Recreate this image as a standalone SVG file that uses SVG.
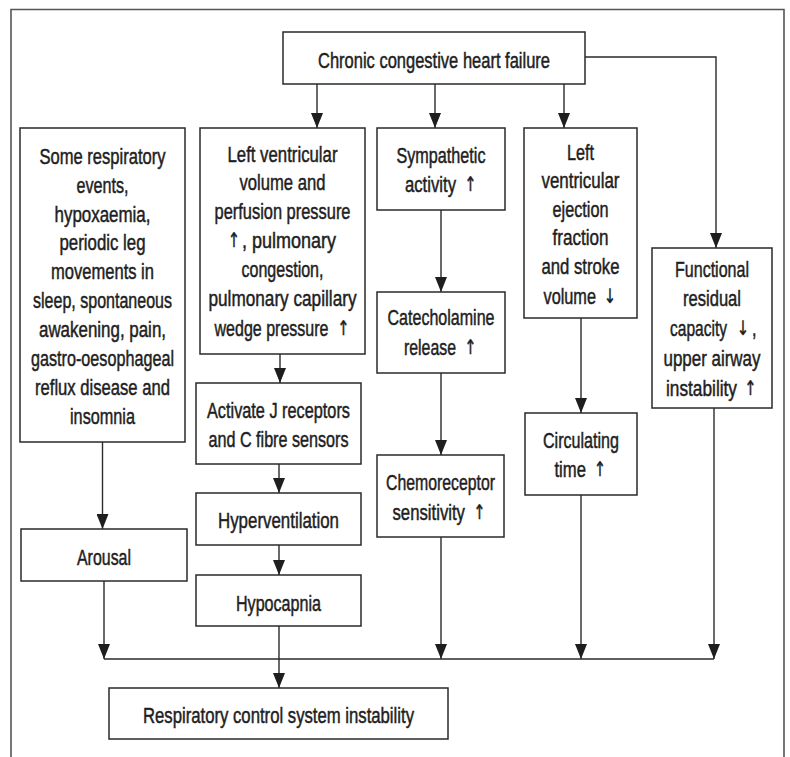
<svg xmlns="http://www.w3.org/2000/svg" width="790" height="757" viewBox="0 0 790 757">
<style>
.box{fill:#fff;stroke:#2a2a2a;stroke-width:1.5}
.frame{fill:none;stroke:#555;stroke-width:1.6}
.t{font-family:"Liberation Sans Narrow","Liberation Sans",Arial,sans-serif;font-size:22.5px;fill:#1e1e1e;text-anchor:middle;stroke:#1e1e1e;stroke-width:0.5}
.s{text-anchor:start}
.ar{font-family:"DejaVu Sans",sans-serif;font-size:20px;fill:#1e1e1e;text-anchor:middle;stroke:#1e1e1e;stroke-width:0.5}
.c{fill:none;stroke:#2a2a2a;stroke-width:1.4}
.a{marker-end:url(#ah)}
</style>
<defs>
<marker id="ah" markerUnits="userSpaceOnUse" markerWidth="15" markerHeight="12" refX="15" refY="6" orient="auto">
<path d="M0,0 L15,6 L0,12 z" fill="#1e1e1e"/>
</marker>
</defs>
<rect width="790" height="757" fill="#fff"/>
<path class="frame" d="M11,757 V9.5 H784 V757"/>

<g id="connectors">
<line class="c a" x1="317" y1="84" x2="317" y2="128"/>
<line class="c a" x1="435" y1="84" x2="435" y2="128"/>
<line class="c a" x1="564" y1="84" x2="564" y2="128"/>
<path class="c a" d="M585,57 H716 V248"/>
<line class="c a" x1="102.5" y1="442" x2="102.5" y2="529"/>
<line class="c a" x1="280" y1="354" x2="280" y2="383"/>
<line class="c a" x1="279" y1="464" x2="279" y2="493"/>
<line class="c a" x1="279" y1="545" x2="279" y2="575"/>
<line class="c a" x1="441" y1="210" x2="441" y2="292"/>
<line class="c a" x1="441" y1="373" x2="441" y2="455"/>
<line class="c a" x1="581" y1="318" x2="581" y2="413"/>
<line class="c a" x1="104" y1="581" x2="104" y2="659"/>
<line class="c a" x1="441" y1="537" x2="441" y2="659"/>
<line class="c a" x1="581" y1="495" x2="581" y2="659"/>
<line class="c a" x1="714" y1="408" x2="714" y2="659"/>
<line class="c" x1="104" y1="659" x2="714" y2="659"/>
<line class="c a" x1="279" y1="626" x2="279" y2="688"/>
</g>

<g id="chf">
<rect class="box" x="283" y="32" width="302" height="52"/>
<text class="t" transform="scale(0.72,1)" x="602.78" y="68" textLength="322.22" lengthAdjust="spacingAndGlyphs">Chronic congestive heart failure</text>
</g>

<g id="some-events">
<rect class="box" x="20" y="128" width="165" height="314"/>
<g transform="scale(0.72,1)">
<text class="t" x="142.36" y="164" textLength="175" lengthAdjust="spacingAndGlyphs">Some respiratory</text>
<text class="t" x="142.36" y="193" textLength="72.22" lengthAdjust="spacingAndGlyphs">events,</text>
<text class="t" x="142.36" y="222" textLength="133.33" lengthAdjust="spacingAndGlyphs">hypoxaemia,</text>
<text class="t" x="142.36" y="250" textLength="119.44" lengthAdjust="spacingAndGlyphs">periodic leg</text>
<text class="t" x="142.36" y="279" textLength="143.06" lengthAdjust="spacingAndGlyphs">movements in</text>
<text class="t" x="142.36" y="308" textLength="193.06" lengthAdjust="spacingAndGlyphs">sleep, spontaneous</text>
<text class="t" x="142.36" y="337" textLength="176.39" lengthAdjust="spacingAndGlyphs">awakening, pain,</text>
<text class="t" x="142.36" y="366" textLength="198.61" lengthAdjust="spacingAndGlyphs">gastro-oesophageal</text>
<text class="t" x="142.36" y="395" textLength="187.5" lengthAdjust="spacingAndGlyphs">reflux disease and</text>
<text class="t" x="142.36" y="424" textLength="90.28" lengthAdjust="spacingAndGlyphs">insomnia</text>
</g>
</g>

<g id="lv-volume">
<rect class="box" x="200" y="128" width="165" height="226"/>
<g transform="scale(0.72,1)">
<text class="t" x="392.36" y="162" textLength="152.78" lengthAdjust="spacingAndGlyphs">Left ventricular</text>
<text class="t" x="392.36" y="190.5" textLength="119.44" lengthAdjust="spacingAndGlyphs">volume and</text>
<text class="t" x="392.36" y="219.5" textLength="188.89" lengthAdjust="spacingAndGlyphs">perfusion pressure</text>
<text class="ar" x="325" y="247">↑</text>
<text class="t s" x="336.11" y="248" textLength="130.56" lengthAdjust="spacingAndGlyphs">, pulmonary</text>
<text class="t" x="392.36" y="277" textLength="113.89" lengthAdjust="spacingAndGlyphs">congestion,</text>
<text class="t" x="392.36" y="306" textLength="205.56" lengthAdjust="spacingAndGlyphs">pulmonary capillary</text>
<text class="t s" x="297.92" y="336" textLength="158.33" lengthAdjust="spacingAndGlyphs">wedge pressure</text>
<text class="ar" x="477.08" y="335">↑</text>
</g>
</g>

<g id="sympathetic">
<rect class="box" x="377" y="128" width="128" height="82"/>
<g transform="scale(0.72,1)">
<text class="t" x="612.5" y="163" textLength="123.61" lengthAdjust="spacingAndGlyphs">Sympathetic</text>
<text class="t s" x="562.5" y="192" textLength="70.83" lengthAdjust="spacingAndGlyphs">activity</text>
<text class="ar" x="653.47" y="191">↑</text>
</g>
</g>

<g id="lv-ejection">
<rect class="box" x="524" y="128" width="113" height="190"/>
<g transform="scale(0.72,1)">
<text class="t" x="806.25" y="160" textLength="37.5" lengthAdjust="spacingAndGlyphs">Left</text>
<text class="t" x="806.25" y="188.5" textLength="108.33" lengthAdjust="spacingAndGlyphs">ventricular</text>
<text class="t" x="806.25" y="217" textLength="77.78" lengthAdjust="spacingAndGlyphs">ejection</text>
<text class="t" x="806.25" y="245.5" textLength="77.78" lengthAdjust="spacingAndGlyphs">fraction</text>
<text class="t" x="806.25" y="274.5" textLength="108.33" lengthAdjust="spacingAndGlyphs">and stroke</text>
<text class="t s" x="754.86" y="304" textLength="72.92" lengthAdjust="spacingAndGlyphs">volume</text>
<text class="ar" x="847.22" y="303">↓</text>
</g>
</g>

<g id="functional">
<rect class="box" x="652" y="248" width="120" height="160"/>
<g transform="scale(0.72,1)">
<text class="t" x="988.89" y="277" textLength="102.78" lengthAdjust="spacingAndGlyphs">Functional</text>
<text class="t" x="988.89" y="306" textLength="80.56" lengthAdjust="spacingAndGlyphs">residual</text>
<text class="t s" x="930.56" y="336" textLength="79.17" lengthAdjust="spacingAndGlyphs">capacity</text>
<text class="ar" x="1031.94" y="335">↓</text>
<text class="t s" x="1044.44" y="336">,</text>
<text class="t" x="988.89" y="366" textLength="134.72" lengthAdjust="spacingAndGlyphs">upper airway</text>
<text class="t s" x="925" y="396" textLength="98.61" lengthAdjust="spacingAndGlyphs">instability</text>
<text class="ar" x="1042.36" y="395">↑</text>
</g>
</g>

<g id="catecholamine">
<rect class="box" x="377" y="292" width="128" height="81"/>
<g transform="scale(0.72,1)">
<text class="t" x="612.5" y="325" textLength="148.61" lengthAdjust="spacingAndGlyphs">Catecholamine</text>
<text class="t s" x="561.11" y="355" textLength="72.22" lengthAdjust="spacingAndGlyphs">release</text>
<text class="ar" x="653.47" y="354">↑</text>
</g>
</g>

<g id="chemoreceptor">
<rect class="box" x="377" y="455" width="127" height="82"/>
<g transform="scale(0.72,1)">
<text class="t" x="611.81" y="490" textLength="151.39" lengthAdjust="spacingAndGlyphs">Chemoreceptor</text>
<text class="t s" x="545.14" y="520" textLength="100.69" lengthAdjust="spacingAndGlyphs">sensitivity</text>
<text class="ar" x="665.97" y="519">↑</text>
</g>
</g>

<g id="circulating">
<rect class="box" x="525" y="413" width="112" height="82"/>
<g transform="scale(0.72,1)">
<text class="t" x="806.94" y="448" textLength="105.56" lengthAdjust="spacingAndGlyphs">Circulating</text>
<text class="t s" x="770.14" y="477" textLength="43.75" lengthAdjust="spacingAndGlyphs">time</text>
<text class="ar" x="833.33" y="476">↑</text>
</g>
</g>

<g id="activate">
<rect class="box" x="196" y="383" width="165" height="81"/>
<g transform="scale(0.72,1)">
<text class="t" x="386.81" y="418" textLength="198.61" lengthAdjust="spacingAndGlyphs">Activate J receptors</text>
<text class="t" x="386.81" y="447" textLength="194.44" lengthAdjust="spacingAndGlyphs">and C fibre sensors</text>
</g>
</g>

<g id="hyperventilation">
<rect class="box" x="196" y="493" width="165" height="52"/>
<text class="t" transform="scale(0.72,1)" x="386.81" y="528" textLength="168.06" lengthAdjust="spacingAndGlyphs">Hyperventilation</text>
</g>

<g id="hypocapnia">
<rect class="box" x="196" y="575" width="165" height="51"/>
<text class="t" transform="scale(0.72,1)" x="386.81" y="611" textLength="118.06" lengthAdjust="spacingAndGlyphs">Hypocapnia</text>
</g>

<g id="arousal">
<rect class="box" x="21" y="529" width="166" height="52"/>
<text class="t" transform="scale(0.72,1)" x="144.44" y="565" textLength="75" lengthAdjust="spacingAndGlyphs">Arousal</text>
</g>

<g id="respiratory">
<rect class="box" x="109" y="688" width="339" height="51"/>
<text class="t" transform="scale(0.72,1)" x="386.81" y="723" textLength="376.39" lengthAdjust="spacingAndGlyphs">Respiratory control system instability</text>
</g>
</svg>
